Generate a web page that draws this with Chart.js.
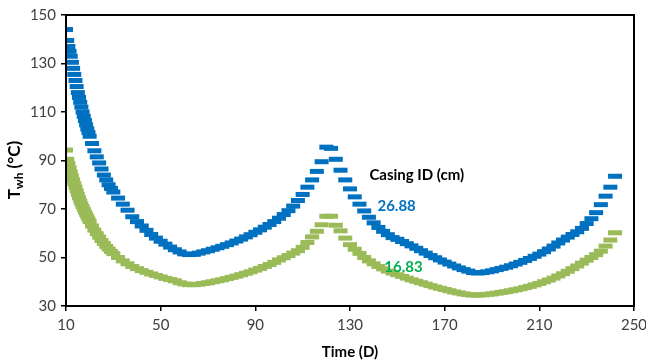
<!DOCTYPE html>
<html>
<head>
<meta charset="utf-8">
<script src="https://cdn.jsdelivr.net/npm/chart.js@4.4.0/dist/chart.umd.min.js"></script>
<style>
  html, body { margin: 0; padding: 0; background: #fff; }
  #wrap { width: 646px; height: 362px; }
</style>
</head>
<body>
<div id="wrap"><canvas id="chart" width="646" height="362"></canvas></div>
<script>
// time in days
const days = [
  10, 10.5, 11, 11.5, 12, 12.5, 13, 13.5, 14, 14.5, 15, 15.5, 16, 16.5, 17, 17.5, 18, 18.5, 19, 19.5, 20,
  21, 22, 23, 24, 25, 26, 27, 28, 29, 30,
  32, 34, 36, 38, 40, 42, 44, 46, 48, 50, 52, 54, 56, 58, 60, 62, 64, 66, 68, 70, 72, 74, 76, 78, 80, 82, 84, 86, 88, 90,
  92, 94, 96, 98, 100, 102, 104, 106, 108, 110, 112, 114, 116, 118, 120, 122, 124, 126, 128, 130, 132, 134, 136, 138, 140,
  142, 144, 146, 148, 150, 152, 154, 156, 158, 160, 162, 164, 166, 168, 170, 172, 174, 176, 178, 180, 182, 184, 186, 188, 190,
  192, 194, 196, 198, 200, 202, 204, 206, 208, 210, 212, 214, 216, 218, 220, 222, 224, 226, 228, 230, 232, 234, 236, 238, 240, 242
];

// wellhead temperature, casing ID 26.88 cm
const twh2688 = [
  144, 139.5, 137, 135, 133, 130.5, 128, 125.5, 123, 120.5, 118, 116, 114, 112, 110, 108.2, 106.5, 104.7, 103, 101.5, 100,
  97, 94, 91.5, 89, 86.5, 84, 82, 80, 78.5, 77,
  74.5, 72, 69.5, 66.8, 64.8, 63, 61.2, 59.5, 58, 56.7, 55.5, 54.3, 53.2, 52.3, 51.5, 51.2, 51.3, 51.8, 52.3, 52.8, 53.4, 54, 54.6, 55.3, 56, 56.8, 57.6, 58.5, 59.4, 60.4,
  61.4, 62.5, 63.6, 64.8, 66.2, 67.7, 69.3, 71.2, 73.5, 76, 79, 82, 85.5, 89.5, 95.5, 95, 90.5, 86, 82, 78.3, 75, 72, 69.2, 66.6, 64.3,
  62.4, 60.8, 59.4, 58.2, 57.5, 56.6, 55.7, 54.8, 53.8, 52.8, 51.8, 50.8, 49.9, 49, 48.1, 47.3, 46.5, 45.7, 45, 44.4, 43.8, 43.6, 43.8, 44.1, 44.5,
  45, 45.5, 46, 46.6, 47.3, 48, 48.8, 49.6, 50.5, 51.4, 52.4, 53.5, 54.7, 56, 57.2, 58.4, 59.5, 60.6, 62, 64, 66, 68.5, 71.8, 75.3, 79, 83.5
];

// wellhead temperature, casing ID 16.83 cm
const twh1683 = [
  94.3, 90.5, 88.8, 87, 85.3, 83.6, 82, 80.5, 79, 77.5, 76, 74.6, 73.3, 72.1, 71, 69.9, 68.8, 67.8, 66.8, 65.8, 64.8,
  63, 61.3, 59.8, 58.4, 57, 55.8, 54.6, 53.5, 52.5, 51.6,
  50, 48.6, 47.4, 46.3, 45.4, 44.6, 43.9, 43.2, 42.6, 42, 41.4, 40.9, 40.4, 39.6, 39.1, 38.8, 38.8, 39, 39.3, 39.6, 40, 40.4, 40.8, 41.3, 41.8, 42.3, 42.9, 43.5, 44.1, 44.8,
  45.5, 46.3, 47.1, 48, 49, 49.9, 50.8, 51.8, 52.8, 54.2, 56.2, 58.5, 60.8, 63.5, 67, 67, 63.3, 61, 58, 55.3, 53.4, 51.7, 50, 48.6, 47.4,
  46.3, 45.3, 44.4, 43.6, 42.9, 42.2, 41.5, 40.8, 40.2, 39.6, 39, 38.4, 37.8, 37.3, 36.8, 36.3, 35.8, 35.4, 35, 34.7, 34.5, 34.5, 34.6, 34.8, 35,
  35.3, 35.6, 35.9, 36.3, 36.7, 37.1, 37.6, 38.1, 38.7, 39.3, 40, 40.7, 41.5, 42.4, 43.3, 44.3, 45.4, 46.5, 47.7, 48.9, 50, 51.2, 52.6, 54.7, 57.2, 60.2
];

const xTicks = [10, 50, 90, 130, 170, 210, 250];
const yTicks = [30, 50, 70, 90, 110, 130, 150];
const legendTitle = 'Casing ID (cm)';
const seriesNames = ['26.88', '16.83'];

if (twh2688.length !== days.length || twh1683.length !== days.length) {
  throw new Error('length mismatch ' + days.length + ' ' + twh2688.length + ' ' + twh1683.length);
}

const BLUE = '#0070C0';
const GREEN = '#9BBB59';
const FONT = 'Lato, "Open Sans", sans-serif';

function toPoints(vals) {
  return days.map((d, i) => ({ x: d, y: vals[i] }));
}

// frame, in-plot labels and axis titles
const extras = {
  id: 'extras',
  afterDraw(chart) {
    const { ctx, chartArea: a, scales: { x, y } } = chart;
    ctx.save();
    ctx.strokeStyle = '#000';
    ctx.lineWidth = 2;
    ctx.strokeRect(a.left, a.top, a.right - a.left, a.bottom - a.top);

    ctx.textAlign = 'left';
    ctx.textBaseline = 'middle';
    ctx.font = 'bold 15px ' + FONT;
    ctx.fillStyle = '#000';
    ctx.fillText(legendTitle, x.getPixelForValue(138.2), y.getPixelForValue(84));
    ctx.fillStyle = BLUE;
    ctx.fillText(seriesNames[0], x.getPixelForValue(141.6), y.getPixelForValue(71.2));
    ctx.fillStyle = '#00B050';
    ctx.fillText(seriesNames[1], x.getPixelForValue(144.5), y.getPixelForValue(46));

    // x title
    ctx.fillStyle = '#000';
    ctx.textAlign = 'center';
    ctx.fillText('Time (D)', (a.left + a.right) / 2, 352);

    // y title with subscript
    ctx.translate(19.5, 170);
    ctx.rotate(-Math.PI / 2);
    ctx.textAlign = 'left';
    ctx.textBaseline = 'alphabetic';
    const big = 'bold 17px ' + FONT, small = 'bold 12px ' + FONT;
    ctx.font = big;
    const wT = ctx.measureText('T').width;
    const wRest = ctx.measureText(' (°C)').width;
    ctx.font = small;
    const wSub = ctx.measureText('wh').width;
    let sx = -(wT + wSub + wRest) / 2;
    ctx.font = big;
    ctx.fillText('T', sx, 0);
    sx += wT;
    ctx.font = small;
    ctx.fillText('wh', sx, 3);
    sx += wSub;
    ctx.font = big;
    ctx.fillText(' (°C)', sx, 0);
    ctx.restore();
  }
};

const tickFont = { family: FONT, size: 15 };

new Chart(document.getElementById('chart'), {
  type: 'scatter',
  data: {
    datasets: [
      {
        label: seriesNames[0],
        data: toPoints(twh2688),
        pointStyle: 'line',
        pointRadius: 7,
        pointBorderWidth: 5,
        borderColor: BLUE,
        backgroundColor: BLUE,
        showLine: false
      },
      {
        label: seriesNames[1],
        data: toPoints(twh1683),
        pointStyle: 'line',
        pointRadius: 7,
        pointBorderWidth: 5,
        borderColor: GREEN,
        backgroundColor: GREEN,
        showLine: false
      }
    ]
  },
  options: {
    responsive: false,
    animation: false,
    devicePixelRatio: 1,
    events: [],
    layout: { padding: { left: 0, right: 12, top: 15, bottom: 0 } },
    plugins: {
      legend: { display: false },
      tooltip: { enabled: false }
    },
    scales: {
      x: {
        type: 'linear',
        min: 10,
        max: 250,
        afterBuildTicks: s => { s.ticks = xTicks.map(v => ({ value: v })); },
        afterFit: s => { s.height = 56; s.paddingLeft = 0; s.paddingRight = 0; },
        ticks: { font: tickFont, color: '#404040', padding: 5, maxRotation: 0 },
        grid: { drawOnChartArea: false, tickLength: 5, color: '#000', lineWidth: 1.5 },
        border: { color: '#000', width: 2 }
      },
      y: {
        min: 30,
        max: 150,
        afterBuildTicks: s => { s.ticks = yTicks.map(v => ({ value: v })); },
        afterFit: s => { s.width = 66; s.paddingTop = 0; s.paddingBottom = 0; },
        ticks: { font: tickFont, color: '#404040', padding: 5 },
        grid: { drawOnChartArea: false, tickLength: 5, color: '#000', lineWidth: 1.5 },
        border: { color: '#000', width: 2 }
      }
    }
  },
  plugins: [extras]
});
</script>
</body>
</html>
